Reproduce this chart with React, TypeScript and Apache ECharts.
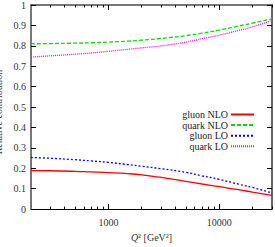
import React, { useEffect, useRef } from "react";
import * as echarts from "echarts";

const q2 = [200, 300, 500, 700, 1000, 1500, 2000, 3000, 5000, 7000, 10000, 15000, 20000, 30000];
const gluonNLO = [0.189, 0.188, 0.185, 0.182, 0.179, 0.174, 0.168, 0.155, 0.136, 0.123, 0.110, 0.095, 0.083, 0.067];
const quarkNLO = [0.810, 0.811, 0.813, 0.815, 0.818, 0.823, 0.828, 0.836, 0.850, 0.862, 0.877, 0.897, 0.911, 0.933];
const gluonLO = [0.253, 0.249, 0.242, 0.236, 0.229, 0.218, 0.210, 0.198, 0.180, 0.163, 0.146, 0.122, 0.106, 0.079];
const quarkLO = [0.745, 0.751, 0.759, 0.765, 0.773, 0.783, 0.790, 0.800, 0.818, 0.835, 0.852, 0.875, 0.893, 0.925];
const majorTicks = [1000, 10000];
const minorTicks = [300, 400, 500, 600, 700, 800, 900, 2000, 3000, 4000, 5000, 6000, 7000, 8000, 9000, 20000, 30000];
const xMin = 200;
const xMax = 30000;
const yTitle = "Relative contribution";

const FONT = "'Liberation Serif', 'DejaVu Serif', serif";
const lg = (v: number) => Math.log10(v);

export default function App() {
  const ref = useRef<HTMLDivElement>(null);
  useEffect(() => {
    const chart = echarts.init(ref.current!, null, { renderer: "svg" });
    const mk = (vals: number[]) => q2.map((q, i) => [lg(q), vals[i]]);
    const xBase = {
      type: "value" as const,
      min: lg(xMin),
      max: lg(xMax),
      splitLine: { show: false },
    };
    const majorX = (pos: string, color: string, width: number, labels: boolean) => ({
      ...xBase,
      position: pos,
      axisLine: { show: true, lineStyle: { color, width } },
      axisTick: { show: true, inside: true, length: 5, customValues: majorTicks.map(lg), lineStyle: { color: "#000" } },
      axisLabel: labels
        ? {
            show: true,
            customValues: majorTicks.map(lg),
            formatter: (v: number) => String(Math.round(Math.pow(10, v))),
            fontFamily: FONT,
            fontSize: 10,
            color: "#333",
            margin: 8,
          }
        : { show: false },
    });
    const minorX = (pos: string) => ({
      ...xBase,
      position: pos,
      axisLine: { show: false },
      axisTick: { show: true, inside: true, length: 2.5, customValues: minorTicks.map(lg), lineStyle: { color: "#000" } },
      axisLabel: { show: false },
    });
    const line = (name: string, vals: number[], color: string, type: any) => ({
      name,
      type: "line",
      data: mk(vals),
      smooth: true,
      showSymbol: false,
      symbol: "none",
      xAxisIndex: 0,
      yAxisIndex: 0,
      lineStyle: { color, width: 1.3, type },
      itemStyle: { color },
    });
    chart.setOption({
      animation: false,
      grid: { left: 31, right: 3, top: 4, bottom: 27, containLabel: false },
      legend: {
        right: 15,
        top: 104.5,
        orient: "vertical",
        align: "right",
        itemWidth: 23,
        itemHeight: 9,
        itemGap: 0.6,
        itemStyle: { opacity: 0 },
        textStyle: { fontFamily: FONT, fontSize: 10, color: "#222", lineHeight: 9, padding: [0, -2, 0, 0] },
        data: ["gluon NLO", "quark NLO", "gluon LO", "quark LO"],
      },
      graphic: [
        {
          type: "text",
          x: -2,
          y: 112,
          rotation: Math.PI / 2,
          style: {
            text: yTitle,
            fontFamily: FONT,
            fontSize: 10,
            fill: "#333",
            textAlign: "center",
            textVerticalAlign: "middle",
          },
        },
      ],
      xAxis: [
        {
          ...majorX("bottom", "#000", 1, true),
          name: "{i|Q}² [GeV²]",
          nameLocation: "middle",
          nameGap: 18,
          nameTextStyle: {
            fontFamily: FONT,
            fontSize: 10,
            color: "#333",
            rich: { i: { fontFamily: FONT, fontSize: 10, fontStyle: "italic", color: "#333" } },
          },
        },
        minorX("bottom"),
        majorX("top", "#777", 2, false),
        minorX("top"),
      ],
      yAxis: [
        {
          type: "value",
          min: 0,
          max: 1,
          interval: 0.1,
          position: "left",
          splitLine: { show: false },
          axisLine: { show: true, lineStyle: { color: "#777", width: 2 } },
          axisTick: { show: true, inside: true, length: 5, lineStyle: { color: "#000" } },
          axisLabel: {
            fontFamily: FONT,
            fontSize: 10,
            color: "#333",
            margin: 5,
            formatter: (v: number) => String(Math.round(v * 10) / 10),
          },
        },
        {
          type: "value",
          min: 0,
          max: 1,
          interval: 0.1,
          position: "right",
          splitLine: { show: false },
          axisLine: { show: true, lineStyle: { color: "#333", width: 1.5 } },
          axisTick: { show: true, inside: true, length: 5, lineStyle: { color: "#000" } },
          axisLabel: { show: false },
        },
      ],
      series: [
        line("gluon NLO", gluonNLO, "#ff0000", "solid"),
        line("quark NLO", quarkNLO, "#00e000", [4, 2]),
        line("gluon LO", gluonLO, "#0000ff", [2, 2]),
        line("quark LO", quarkLO, "#ff00ff", [1, 1]),
      ],
    });
    return () => chart.dispose();
  }, []);
  return (
    <div
      ref={ref}
      style={{ position: "fixed", left: 0, top: 0, width: 275, height: 247, background: "#fff" }}
    />
  );
}
